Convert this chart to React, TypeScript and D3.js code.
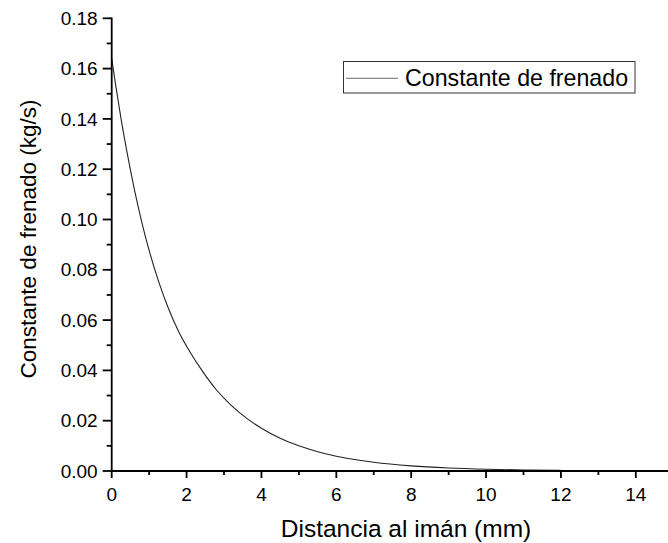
import React from "react";
import * as d3 from "d3";

// Braking constant vs. distance to the magnet
const distanceMm = [0, 0.1, 0.25, 0.4, 0.6, 0.8, 1.0, 1.25, 1.5, 1.8, 2.1, 2.4, 2.8, 3.2, 3.6, 4, 4.5, 5, 5.5, 6, 7, 8, 9, 10, 11, 12];
const brakingConst = [0.164, 0.154, 0.14, 0.1275, 0.1124, 0.0992, 0.0877, 0.0755, 0.0652, 0.0551, 0.0471, 0.0402, 0.0322, 0.026, 0.021, 0.017, 0.013, 0.01, 0.00768, 0.00589, 0.00347, 0.00204, 0.0012, 0.00071, 0.00042, 0.00024];

const xMajorTicks = [0, 2, 4, 6, 8, 10, 12, 14];
const xMinorTicks = [1, 3, 5, 7, 9, 11, 13];
const yMajorTicks = [0, 0.02, 0.04, 0.06, 0.08, 0.1, 0.12, 0.14, 0.16, 0.18];
const yMinorTicks = [0.01, 0.03, 0.05, 0.07, 0.09, 0.11, 0.13, 0.15, 0.17];

const seriesName = "Constante de frenado";
const xTitle = "Distancia al imán (mm)";
const yTitle = "Constante de frenado (kg/s)";

const W = 668;
const H = 543;
const FONT = "'Liberation Sans', Arial, sans-serif";

export default function App() {
  const x = d3.scaleLinear().domain([0, 14.86]).range([111.7, 668]);
  const y = d3.scaleLinear().domain([0, 0.18]).range([471, 18.3]);
  const fmt = d3.format(".2f");

  const pts = distanceMm.map((d, i) => [d, brakingConst[i]] as [number, number]);
  const line = d3
    .line<[number, number]>()
    .x((d) => x(d[0]))
    .y((d) => y(d[1]))
    .curve(d3.curveMonotoneX);

  const x0 = x(0);
  const yBase = y(0);

  return (
    <svg
      width={W}
      height={H}
      style={{ position: "absolute", left: 0, top: 0, background: "#fff" }}
      fontFamily={FONT}
    >
      {/* curve */}
      <path d={line(pts) ?? ""} fill="none" stroke="#222" strokeWidth={1.1} />

      {/* y axis */}
      <line x1={x0} x2={x0} y1={y(0.18) - 0.9} y2={yBase + 0.9} stroke="#000" strokeWidth={1.8} />
      {yMajorTicks.map((t) => (
        <g key={"ym" + t}>
          <line x1={x0 - 9} x2={x0} y1={y(t)} y2={y(t)} stroke="#000" strokeWidth={1.8} />
          <text x={x0 - 14} y={y(t)} dy="0.35em" textAnchor="end" fontSize={19} fill="#000">
            {fmt(t)}
          </text>
        </g>
      ))}
      {yMinorTicks.map((t) => (
        <line key={"yn" + t} x1={x0 - 5} x2={x0} y1={y(t)} y2={y(t)} stroke="#000" strokeWidth={1.8} />
      ))}

      {/* x axis */}
      <line x1={x0 - 0.9} x2={W} y1={yBase} y2={yBase} stroke="#000" strokeWidth={1.8} />
      {xMajorTicks.map((t) => (
        <g key={"xm" + t}>
          <line x1={x(t)} x2={x(t)} y1={yBase} y2={yBase + 7} stroke="#000" strokeWidth={1.8} />
          <text x={x(t)} y={501} textAnchor="middle" fontSize={19} fill="#000">
            {t}
          </text>
        </g>
      ))}
      {xMinorTicks.map((t) => (
        <line key={"xn" + t} x1={x(t)} x2={x(t)} y1={yBase} y2={yBase + 4} stroke="#000" strokeWidth={1.8} />
      ))}

      {/* axis titles */}
      <text x={406} y={537} textAnchor="middle" fontSize={24.5} fill="#000">
        {xTitle}
      </text>
      <text
        transform={`translate(36, 239) rotate(-90)`}
        textAnchor="middle"
        fontSize={22.5}
        fill="#000"
      >
        {yTitle}
      </text>

      {/* legend */}
      <rect x={343.5} y={61.5} width={291.5} height={31.5} fill="#fff" stroke="#333" strokeWidth={1} />
      <line x1={346} x2={398} y1={78.3} y2={78.3} stroke="#888" strokeWidth={1.2} />
      <text x={405} y={86} fontSize={23.2} fill="#000">
        {seriesName}
      </text>
    </svg>
  );
}
